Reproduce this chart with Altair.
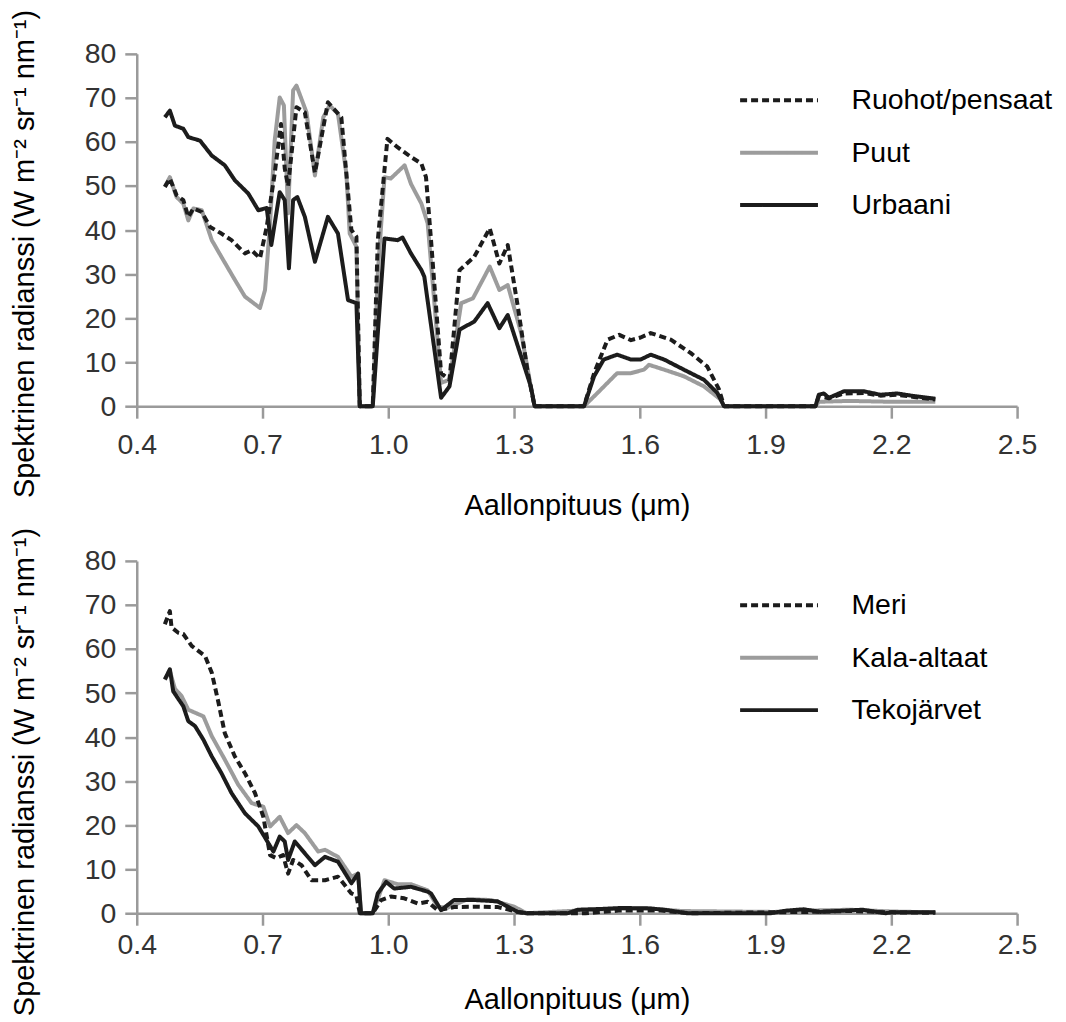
import altair as alt
import pandas as pd

# ---------------- top panel ----------------
RUOHOT_X = [0.467, 0.479, 0.495, 0.511, 0.523, 0.535, 0.555, 0.575, 0.602, 0.626, 0.658, 0.674, 0.694,
            0.710, 0.729, 0.744, 0.753, 0.761, 0.781, 0.801, 0.825, 0.856, 0.888, 0.912, 0.924, 0.932,
            0.963, 0.975, 0.998, 1.022, 1.054, 1.079, 1.090, 1.102, 1.126, 1.146, 1.170, 1.205, 1.242,
            1.265, 1.285, 1.309, 1.333, 1.349, 1.467, 1.491, 1.523, 1.551, 1.579, 1.602, 1.626, 1.674,
            1.721, 1.761, 1.789, 1.801, 2.019, 2.027, 2.051, 2.087, 2.134, 2.174, 2.214, 2.254, 2.305]
RUOHOT_Y = [49.8, 51.7, 47.9, 46.8, 43.0, 44.9, 44.1, 40.7, 39.2, 37.7, 34.7, 35.4, 33.6,
            40.7, 52.8, 64.1, 54.0, 50.0, 67.9, 66.7, 53.0, 69.0, 65.6, 40.0, 38.5, 0.0,
            0.0, 37.7, 60.7, 58.8, 56.6, 55.1, 52.0, 37.7, 7.5, 6.0, 30.9, 33.9, 40.4,
            32.4, 36.6, 22.6, 7.5, 0.0, 0.0, 7.5, 15.1, 16.2, 15.0, 15.6, 16.6, 15.1,
            12.1, 9.0, 3.8, 0.0, 0.0, 2.3, 1.8, 2.9, 3.0, 2.4, 2.6, 2.1, 1.5]

PUUT_X = [0.467, 0.479, 0.495, 0.511, 0.523, 0.535, 0.555, 0.579, 0.602, 0.634, 0.658, 0.694, 0.706,
          0.718, 0.729, 0.741, 0.751, 0.761, 0.773, 0.781, 0.805, 0.825, 0.845, 0.860, 0.880, 0.900,
          0.908, 0.924, 0.932, 0.963, 0.975, 0.991, 1.006, 1.039, 1.054, 1.079, 1.094, 1.126, 1.146,
          1.174, 1.202, 1.242, 1.265, 1.285, 1.317, 1.340, 1.349, 1.467, 1.499, 1.546, 1.579, 1.610,
          1.622, 1.658, 1.705, 1.753, 1.793, 1.801, 2.019, 2.027, 2.100, 2.200, 2.305]
PUUT_Y = [49.8, 52.0, 47.5, 46.0, 42.2, 44.9, 44.5, 37.7, 33.9, 28.7, 24.9, 22.3, 26.4,
          41.5, 60.3, 70.1, 68.3, 43.8, 71.7, 72.8, 66.7, 52.4, 65.6, 68.3, 66.4, 52.8,
          39.2, 36.2, 0.0, 0.0, 30.2, 52.0, 51.7, 54.7, 50.5, 46.0, 41.5, 5.3, 6.0,
          23.4, 24.5, 31.7, 26.4, 27.5, 16.6, 4.5, 0.0, 0.0, 3.0, 7.5, 7.5, 8.3,
          9.4, 8.3, 6.8, 4.5, 1.5, 0.0, 0.0, 1.0, 1.2, 1.0, 1.0]

URBAANI_X = [0.467, 0.479, 0.491, 0.511, 0.523, 0.551, 0.579, 0.610, 0.634, 0.666, 0.690, 0.710, 0.721,
             0.741, 0.753, 0.763, 0.773, 0.783, 0.801, 0.825, 0.856, 0.880, 0.904, 0.924, 0.932, 0.963,
             0.979, 0.991, 1.022, 1.034, 1.054, 1.079, 1.086, 1.126, 1.146, 1.170, 1.205, 1.237, 1.265,
             1.285, 1.317, 1.340, 1.349, 1.467, 1.491, 1.514, 1.546, 1.579, 1.602, 1.626, 1.658, 1.705,
             1.753, 1.785, 1.801, 2.019, 2.027, 2.039, 2.051, 2.087, 2.134, 2.174, 2.214, 2.254, 2.305]
URBAANI_Y = [65.6, 67.1, 63.7, 63.0, 61.1, 60.3, 56.9, 54.7, 51.3, 48.3, 44.5, 45.0, 36.6,
             48.6, 46.8, 31.3, 46.8, 47.5, 43.0, 32.8, 43.0, 39.2, 24.1, 23.4, 0.0, 0.0,
             22.0, 38.1, 37.7, 38.3, 34.7, 30.9, 29.4, 1.9, 4.5, 17.4, 19.2, 23.4, 17.7,
             20.7, 11.3, 4.5, 0.0, 0.0, 6.8, 10.6, 11.7, 10.6, 10.6, 11.7, 10.6, 8.3,
             6.0, 3.0, 0.0, 0.0, 2.6, 2.9, 1.9, 3.4, 3.4, 2.6, 2.9, 2.3, 1.7]

# ---------------- bottom panel ----------------
MERI_X = [0.467, 0.479, 0.483, 0.499, 0.511, 0.531, 0.563, 0.579, 0.595, 0.610, 0.634, 0.658, 0.682,
          0.702, 0.718, 0.733, 0.749, 0.761, 0.773, 0.793, 0.817, 0.849, 0.880, 0.912, 0.924, 0.932,
          0.963, 0.983, 1.006, 1.038, 1.071, 1.094, 1.118, 1.157, 1.214, 1.262, 1.309, 1.330, 1.470,
          1.550, 1.650, 1.720, 2.000, 2.100, 2.200, 2.305]
MERI_Y = [65.6, 68.6, 64.9, 63.7, 63.4, 60.7, 58.4, 54.6, 47.8, 40.9, 35.6, 31.8, 27.3,
          21.9, 13.2, 12.5, 13.2, 9.0, 12.1, 10.9, 7.5, 7.5, 8.3, 4.5, 4.0, 0.0,
          0.0, 3.0, 3.8, 3.4, 2.2, 2.6, 0.7, 1.4, 1.5, 1.4, 0.3, 0.0, 0.0,
          0.6, 0.6, 0.0, 0.3, 0.5, 0.2, 0.1]

KALA_X = [0.467, 0.479, 0.491, 0.507, 0.523, 0.559, 0.579, 0.610, 0.642, 0.674, 0.702, 0.718, 0.741,
          0.761, 0.781, 0.801, 0.833, 0.849, 0.880, 0.912, 0.928, 0.935, 0.963, 0.991, 1.022, 1.054,
          1.094, 1.118, 1.140, 1.190, 1.245, 1.300, 1.330, 1.450, 1.550, 1.620, 1.700, 1.920, 2.000,
          2.100, 2.200, 2.305]
KALA_Y = [53.0, 55.0, 51.0, 49.3, 46.2, 44.7, 40.2, 34.9, 29.2, 25.0, 24.2, 19.7, 21.9,
          18.2, 20.0, 18.2, 14.0, 14.4, 12.8, 8.3, 9.0, 0.0, 0.0, 7.5, 6.6, 6.6,
          5.2, 1.5, 1.2, 3.2, 3.0, 1.5, 0.0, 0.6, 1.0, 1.1, 0.5, 0.3, 0.6,
          0.8, 0.4, 0.2]

TEKO_X = [0.467, 0.479, 0.487, 0.511, 0.523, 0.539, 0.559, 0.579, 0.602, 0.626, 0.658, 0.690, 0.714,
          0.726, 0.741, 0.753, 0.761, 0.777, 0.801, 0.825, 0.849, 0.880, 0.912, 0.928, 0.935, 0.963,
          0.975, 0.995, 1.014, 1.054, 1.094, 1.102, 1.126, 1.157, 1.205, 1.261, 1.309, 1.330, 1.428,
          1.452, 1.515, 1.555, 1.622, 1.658, 1.713, 1.912, 1.950, 1.991, 2.031, 2.131, 2.186, 2.200,
          2.305]
TEKO_Y = [53.1, 55.4, 50.4, 47.0, 43.6, 42.5, 39.4, 35.6, 31.8, 27.3, 22.7, 19.7, 15.9,
          14.0, 17.4, 16.3, 12.1, 16.3, 13.6, 10.9, 12.8, 11.7, 6.8, 9.0, 0.0, 0.0,
          4.5, 7.1, 5.6, 6.0, 4.9, 4.5, 0.7, 3.0, 3.0, 2.7, 0.3, 0.0, 0.0,
          0.8, 1.0, 1.2, 1.1, 0.8, 0.0, 0.0, 0.6, 0.9, 0.3, 0.8, 0.0, 0.2,
          0.2]

TOP_NAMES = ["Ruohot/pensaat", "Puut", "Urbaani"]
BOTTOM_NAMES = ["Meri", "Kala-altaat", "Tekojärvet"]
X_TICKS = [0.4, 0.7, 1.0, 1.3, 1.6, 1.9, 2.2, 2.5]
Y_TICKS = [0, 10, 20, 30, 40, 50, 60, 70, 80]
X_TITLE = "Aallonpituus (μm)"
Y_TITLE = "Spektrinen radianssi (W m⁻² sr⁻¹ nm⁻¹)"

BLACK = "#1c1c1c"
GREY = "#9c9c9c"
COLORS = [BLACK, GREY, BLACK]
DASHES = [[7, 4], [1, 0], [1, 0]]
FONT = "Liberation Sans"


def frame(series):
    rows = []
    for name, xs, ys in series:
        for i, (x, y) in enumerate(zip(xs, ys)):
            rows.append({"wl": x, "rad": y, "series": name, "i": i})
    return pd.DataFrame(rows)


def panel(df, names, draw_order, legend_y, title_y, label_pad, title_pad):
    legend = alt.Legend(
        title=None, orient="none", legendX=622, legendY=legend_y,
        symbolType="M-2,0H2", symbolSize=1521, symbolStrokeWidth=4,
        labelFontSize=28.5, labelFont=FONT, labelColor="#000000", labelLimit=500,
        labelOffset=51, rowPadding=16.5, symbolOpacity=1,
    )
    color = alt.Color("series:N", scale=alt.Scale(domain=names, range=COLORS), legend=legend)
    dash = alt.StrokeDash("series:N", scale=alt.Scale(domain=names, range=DASHES), legend=legend)
    x = alt.X("wl:Q", scale=alt.Scale(domain=[0.4, 2.5], nice=False, zero=False),
              axis=alt.Axis(values=X_TICKS, format=".1f", title=X_TITLE, labelFlush=False,
                            labelPadding=label_pad, titlePadding=title_pad))
    y = alt.Y("rad:Q", scale=alt.Scale(domain=[0, 80], nice=False),
              axis=alt.Axis(values=Y_TICKS, title=Y_TITLE, titleX=-97, titleY=title_y,
                            labelPadding=9))
    base = alt.Chart(df)
    layers = []
    for n in draw_order:
        layers.append(
            base.transform_filter(alt.datum.series == n)
            .mark_line(strokeWidth=4, strokeJoin="round")
            .encode(x=x, y=y, color=color, strokeDash=dash, order="i:Q")
        )
    return alt.layer(*layers).properties(width=882, height=353)


top_df = frame([(TOP_NAMES[0], RUOHOT_X, RUOHOT_Y),
                (TOP_NAMES[1], PUUT_X, PUUT_Y),
                (TOP_NAMES[2], URBAANI_X, URBAANI_Y)])
bottom_df = frame([(BOTTOM_NAMES[0], MERI_X, MERI_Y),
                   (BOTTOM_NAMES[1], KALA_X, KALA_Y),
                   (BOTTOM_NAMES[2], TEKO_X, TEKO_Y)])

top = panel(top_df, TOP_NAMES, [TOP_NAMES[1], TOP_NAMES[0], TOP_NAMES[2]],
            legend_y=25, title_y=200, label_pad=12, title_pad=33)
bottom = panel(bottom_df, BOTTOM_NAMES, [BOTTOM_NAMES[1], BOTTOM_NAMES[0], BOTTOM_NAMES[2]],
               legend_y=23, title_y=211, label_pad=5, title_pad=27)

chart = (
    alt.vconcat(top, bottom, spacing=155, bounds="flush")
    .resolve_scale(color="independent", strokeDash="independent")
    .configure_view(stroke=None)
    .configure_axis(
        grid=False, domainColor="#9a9a9a", domainWidth=2.5, tickColor="#9a9a9a",
        tickWidth=2.5, tickSize=12, labelFontSize=28.5, labelFont=FONT, labelColor="#333333",
        titleFontSize=29, titleFont=FONT, titleFontWeight="normal", titleColor="#000000",
    )
    .properties(padding={"left": 2, "top": 0, "right": 5, "bottom": 0}, background="white")
)

chart.save("out.html", embed_options={"renderer": "svg", "actions": False})
